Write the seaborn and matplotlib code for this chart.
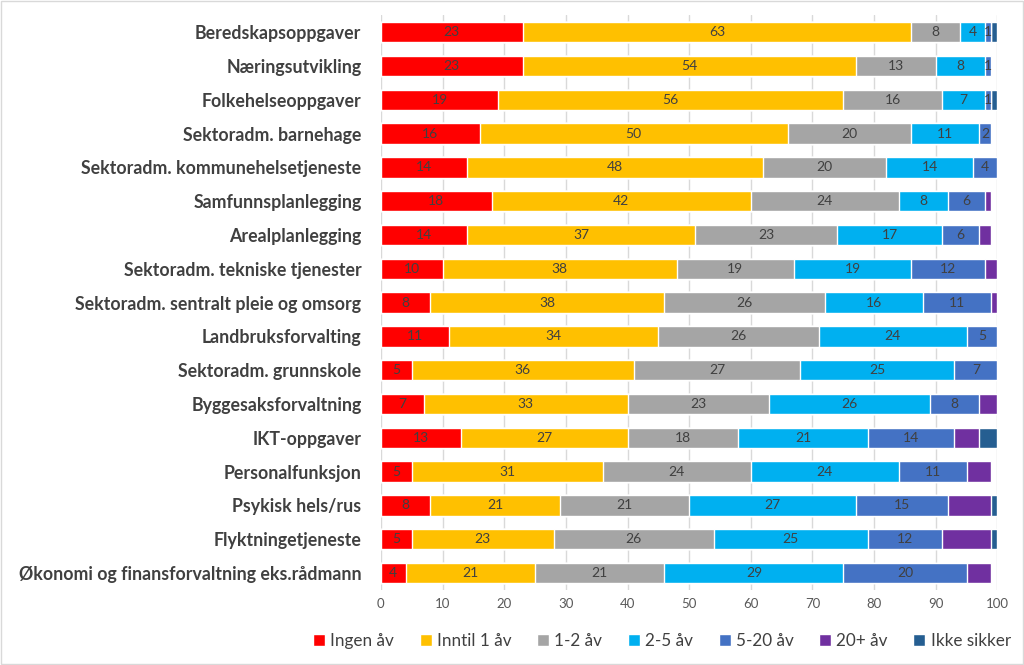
import numpy as np
import pandas as pd
import matplotlib
matplotlib.use("Agg")
import matplotlib.pyplot as plt
import seaborn as sns

categories = [
    "Beredskapsoppgaver",
    "Næringsutvikling",
    "Folkehelseoppgaver",
    "Sektoradm. barnehage",
    "Sektoradm. kommunehelsetjeneste",
    "Samfunnsplanlegging",
    "Arealplanlegging",
    "Sektoradm. tekniske tjenester",
    "Sektoradm. sentralt pleie og omsorg",
    "Landbruksforvalting",
    "Sektoradm. grunnskole",
    "Byggesaksforvaltning",
    "IKT-oppgaver",
    "Personalfunksjon",
    "Psykisk hels/rus",
    "Flyktningetjeneste",
    "Økonomi og finansforvaltning eks.rådmann",
]

ingen = [23, 23, 19, 16, 14, 18, 14, 10, 8, 11, 5, 7, 13, 5, 8, 5, 4]
inntil1 = [63, 54, 56, 50, 48, 42, 37, 38, 38, 34, 36, 33, 27, 31, 21, 23, 21]
aar1_2 = [8, 13, 16, 20, 20, 24, 23, 19, 26, 26, 27, 23, 18, 24, 21, 26, 21]
aar2_5 = [4, 8, 7, 11, 14, 8, 17, 19, 16, 24, 25, 26, 21, 24, 27, 25, 29]
aar5_20 = [1, 1, 1, 2, 4, 6, 6, 12, 11, 5, 7, 8, 14, 11, 15, 12, 20]
aar20 = [0, 0, 0, 0, 0, 1, 2, 2, 1, 0, 0, 3, 4, 4, 7, 8, 4]
ikke_sikker = [1, 0, 1, 0, 0, 0, 0, 0, 0, 0, 0, 0, 3, 0, 1, 1, 0]

series_names = ["Ingen åv", "Inntil 1 åv", "1-2 åv", "2-5 åv", "5-20 åv", "20+ åv", "Ikke sikker"]
series = [ingen, inntil1, aar1_2, aar2_5, aar5_20, aar20, ikke_sikker]
colors = ["#FF0000", "#FFC000", "#A5A5A5", "#00B0F0", "#4472C4", "#7030A0", "#255E91"]
show_labels = [True, True, True, True, True, False, False]

df = pd.DataFrame(dict(zip(series_names, series)), index=categories)
cum = df.cumsum(axis=1)

sns.set_style("white")
plt.rcParams["font.family"] = ["Lato", "DejaVu Sans"]

fig = plt.figure(figsize=(10.24, 6.65), dpi=100)
ax = fig.add_axes([0.372, 0.113, 0.602, 0.864])

# stacked bars: draw cumulative totals from the last series backwards
for name, col in reversed(list(zip(series_names, colors))):
    sns.barplot(x=cum[name].values, y=categories, color=col, width=0.6,
                orient="h", ax=ax, saturation=1, label=name)

for name, show in zip(series_names, show_labels):
    if not show:
        continue
    for i, cat in enumerate(categories):
        v = df.loc[cat, name]
        if v > 0:
            ax.text(cum.loc[cat, name] - v / 2, i, str(v), ha="center", va="center",
                    fontsize=10, color="#404040")

ax.set_xlim(0, 100)
ax.set_ylim(16.5, -0.5)
ax.set_xticks(range(0, 101, 10))
ax.xaxis.grid(True, color="#D9D9D9", linewidth=1)
ax.set_axisbelow(True)
for s in ax.spines.values():
    s.set_visible(False)
ax.tick_params(axis="x", length=0, labelsize=9.5, labelcolor="#595959", pad=6)
ax.tick_params(axis="y", length=0, pad=14)
for lbl in ax.get_yticklabels():
    lbl.set_fontweight("bold")
    lbl.set_fontsize(12.8)
    lbl.set_color("#404040")
ax.set_xlabel("")
ax.set_ylabel("")

handles, labels = ax.get_legend_handles_labels()
order = [labels.index(n) for n in series_names]
ax.legend([handles[k] for k in order], series_names, loc="center",
          bbox_to_anchor=(0.456, -0.089), ncol=7, frameon=False,
          fontsize=12.3, labelcolor="#404040", handlelength=0.7, handleheight=0.7,
          handletextpad=0.3, columnspacing=1.5)

fig.patches.append(plt.Rectangle((0.001, 0.001), 0.998, 0.998, transform=fig.transFigure,
                                 fill=False, edgecolor="#D9D9D9", linewidth=1))

fig.savefig("out.png", dpi=100)
